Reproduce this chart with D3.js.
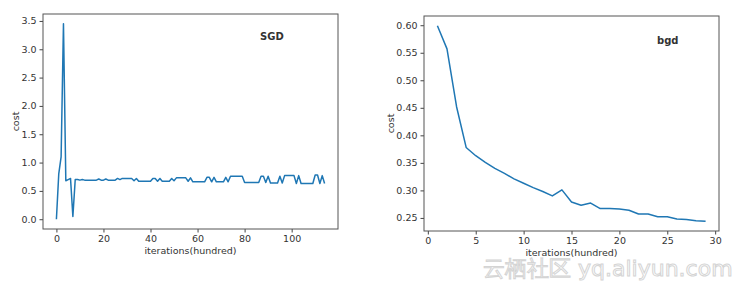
<!DOCTYPE html>
<html>
<head>
<meta charset="utf-8">
<script src="https://cdn.jsdelivr.net/npm/d3@7"></script>
<style>
  body { margin: 0; background: #fff; }
  svg text { font-family: "DejaVu Sans", sans-serif; fill: #333; }
</style>
</head>
<body>
<div id="chart"></div>
<script>
// SGD cost per hundred iterations (x = 0..114)
const sgdCost = [
  0.00, 0.80, 1.10, 3.45, 0.68, 0.70, 0.72, 0.05, 0.70, 0.70,
  0.69, 0.70, 0.69, 0.69, 0.69, 0.69, 0.69, 0.69, 0.71, 0.69,
  0.69, 0.71, 0.69, 0.69, 0.69, 0.69, 0.72, 0.70, 0.72, 0.72,
  0.72, 0.72, 0.72, 0.68, 0.72, 0.67, 0.67, 0.67, 0.67, 0.67,
  0.67, 0.72, 0.72, 0.67, 0.72, 0.67, 0.67, 0.67, 0.67, 0.72,
  0.68, 0.73, 0.73, 0.73, 0.73, 0.73, 0.67, 0.73, 0.66, 0.66,
  0.66, 0.66, 0.66, 0.66, 0.74, 0.74, 0.66, 0.74, 0.66, 0.66,
  0.66, 0.66, 0.74, 0.66, 0.76, 0.76, 0.76, 0.76, 0.76, 0.76,
  0.65, 0.65, 0.65, 0.65, 0.65, 0.65, 0.65, 0.76, 0.76, 0.65,
  0.76, 0.64, 0.64, 0.64, 0.64, 0.76, 0.64, 0.77, 0.77, 0.77,
  0.77, 0.77, 0.63, 0.77, 0.63, 0.63, 0.63, 0.63, 0.63, 0.63,
  0.78, 0.78, 0.63, 0.77, 0.63
];

// batch GD cost (x = 1..29)
const bgdCost = [
  0.599, 0.557, 0.452, 0.378, 0.363, 0.351, 0.340, 0.331, 0.321, 0.313,
  0.305, 0.298, 0.290, 0.301, 0.279, 0.273, 0.277, 0.267, 0.267, 0.266,
  0.264, 0.257, 0.257, 0.252, 0.252, 0.248, 0.247, 0.245, 0.244
];

const sgdYTicks = [0, 0.5, 1.0, 1.5, 2.0, 2.5, 3.0, 3.5];
const sgdXTicks = [0, 20, 40, 60, 80, 100];
const bgdYTicks = [0.25, 0.30, 0.35, 0.40, 0.45, 0.50, 0.55, 0.60];
const bgdXTicks = [0, 5, 10, 15, 20, 25, 30];

const svg = d3.select("#chart").append("svg")
  .attr("width", 738)
  .attr("height", 287);

// matplotlib-ish panel: 5% margins around the data
function drawPanel(opts) {
  const { left, right, top, bottom, xs, ys, title, titleX, titleY,
          xTicks, yTicks, yFmt, yLabelX, xLabelY } = opts;

  const xExt = d3.extent(xs), yExt = d3.extent(ys);
  const xPad = (xExt[1] - xExt[0]) * 0.05, yPad = (yExt[1] - yExt[0]) * 0.05;

  const x = d3.scaleLinear().domain([xExt[0] - xPad, xExt[1] + xPad]).range([left, right]);
  const y = d3.scaleLinear().domain([yExt[0] - yPad, yExt[1] + yPad]).range([bottom, top]);

  const g = svg.append("g");

  g.append("g")
    .attr("transform", `translate(0,${bottom})`)
    .call(d3.axisBottom(x).tickValues(xTicks).tickFormat(d3.format("d")).tickSizeOuter(0).tickSize(3.5).tickPadding(3))
    .call(a => a.select(".domain").remove())
    .call(a => a.selectAll("line").attr("stroke", "#444"))
    .call(a => a.selectAll("text").attr("font-size", 9.5)
      .attr("font-family", "DejaVu Sans").attr("fill", "#333"));

  g.append("g")
    .attr("transform", `translate(${left},0)`)
    .call(d3.axisLeft(y).tickValues(yTicks).tickFormat(yFmt).tickSizeOuter(0).tickSize(3.5))
    .call(a => a.select(".domain").remove())
    .call(a => a.selectAll("line").attr("stroke", "#444"))
    .call(a => a.selectAll("text").attr("font-size", 9.5)
      .attr("font-family", "DejaVu Sans").attr("fill", "#333"));

  const line = d3.line()
    .x((d, i) => x(xs[i]))
    .y(d => y(d));

  g.append("path")
    .datum(ys)
    .attr("d", line)
    .attr("fill", "none")
    .attr("stroke", "#1f77b4")
    .attr("stroke-width", 1.5)
    .attr("stroke-linejoin", "round");

  // frame
  g.append("rect")
    .attr("x", left).attr("y", top)
    .attr("width", right - left).attr("height", bottom - top)
    .attr("fill", "none")
    .attr("stroke", "#555")
    .attr("stroke-width", 1);

  g.append("text")
    .attr("x", titleX).attr("y", titleY)
    .attr("font-size", 10).attr("font-weight", "bold")
    .attr("fill", "#111")
    .text(title);

  g.append("text")
    .attr("transform", `translate(${yLabelX},${(top + bottom) / 2}) rotate(-90)`)
    .attr("text-anchor", "middle")
    .attr("font-size", 9.5)
    .text("cost");

  g.append("text")
    .attr("x", (left + right) / 2).attr("y", xLabelY)
    .attr("text-anchor", "middle")
    .attr("font-size", 9.5)
    .text("iterations(hundred)");
}

drawPanel({
  left: 43, right: 338, top: 14, bottom: 229,
  xs: d3.range(0, sgdCost.length), ys: sgdCost,
  title: "SGD", titleX: 260, titleY: 40,
  xTicks: sgdXTicks, yTicks: sgdYTicks, yFmt: d3.format(".1f"),
  yLabelX: 19, xLabelY: 254
});

drawPanel({
  left: 424, right: 719, top: 16, bottom: 231,
  xs: d3.range(1, bgdCost.length + 1), ys: bgdCost,
  title: "bgd", titleX: 657, titleY: 44,
  xTicks: bgdXTicks, yTicks: bgdYTicks, yFmt: d3.format(".2f"),
  yLabelX: 394, xLabelY: 256
});

// watermark
svg.append("text")
  .attr("x", 483).attr("y", 276)
  .attr("font-size", 22)
  .attr("font-family", "Noto Sans CJK SC, sans-serif")
  .style("fill", "#fff")
  .attr("stroke", "#d4d4d4")
  .attr("stroke-width", 1)
  .text("云栖社区 yq.aliyun.com");
</script>
</body>
</html>
